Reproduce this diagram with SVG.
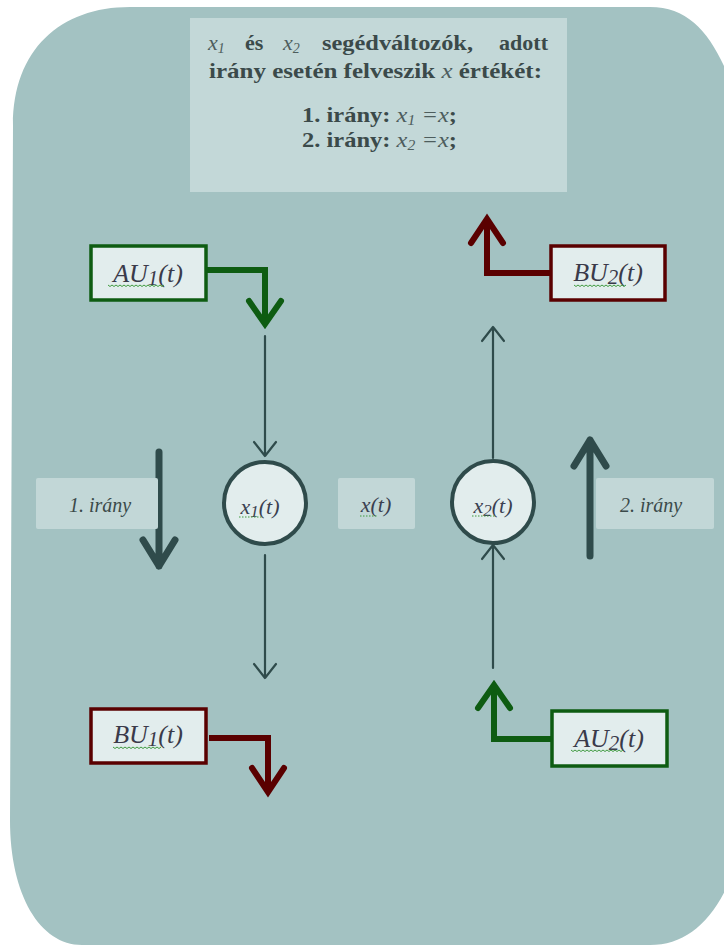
<svg xmlns="http://www.w3.org/2000/svg" width="724" height="945" viewBox="0 0 724 945">
<defs>
<style>
.bg{fill:#a3c2c2}
.panel{fill:#c3d8d8}
.lbl{fill:#c2d7d7}
.node{fill:#e2eded;stroke-width:3.5}
.grn{stroke:#0e5c12}
.mar{stroke:#5a0000}
.circ{fill:#e2eded;stroke:#2f4b4b;stroke-width:4}
.hd{font-family:"Liberation Serif",serif;font-weight:bold;font-size:22px;fill:#3b4a4a}
.mx{font-family:"Liberation Serif",serif;font-style:italic;font-weight:normal;fill:#4d5d5d}
.nt{font-family:"Liberation Serif",serif;font-style:italic;font-size:26px;fill:#3a3a4a;text-anchor:middle}
.ct{font-family:"Liberation Serif",serif;font-style:italic;font-size:22px;fill:#3a4050;text-anchor:middle}
.lt{font-family:"Liberation Serif",serif;font-style:italic;font-size:20px;fill:#3b4a4a;text-anchor:middle}
.thin{fill:none;stroke:#2f4b4b;stroke-width:2.2;stroke-linecap:round;stroke-linejoin:round}
.thick{fill:none;stroke:#2f4b4b;stroke-width:7;stroke-linecap:round;stroke-linejoin:round}
.bent{fill:none;stroke-width:6;stroke-linejoin:miter}
.head{fill:none;stroke-width:6;stroke-linecap:round;stroke-linejoin:miter}
.sq{fill:none;stroke:#3f9a3f;stroke-width:1}
</style>
</defs>
<path class="bg" d="M13,125 C13,50 60,7 130,7 L650,7 C690,7 712,35 730,80 L730,880 C712,922 685,945 650,945 L82,945 C40,945 10,895 10,820 Z"/>

<g id="info">
<rect class="panel" x="190" y="18" width="377" height="174"/>
<text class="mx" x="208" y="50" font-size="22">x<tspan font-size="14" dy="3">1</tspan></text>
<text class="hd" x="245" y="50">és</text>
<text class="mx" x="283" y="50" font-size="22">x<tspan font-size="14" dy="3">2</tspan></text>
<text class="hd" x="322" y="50" textLength="151" lengthAdjust="spacingAndGlyphs">segédváltozók,</text>
<text class="hd" x="548" y="50" text-anchor="end">adott</text>
<text class="hd" x="209" y="78" textLength="333" lengthAdjust="spacingAndGlyphs">irány esetén felveszik <tspan class="mx">x</tspan> értékét:</text>
<text class="hd" x="302" y="122" textLength="155" lengthAdjust="spacingAndGlyphs">1. irány: <tspan class="mx">x<tspan font-size="14" dy="3">1</tspan><tspan dy="-3"> =x</tspan></tspan>;</text>
<text class="hd" x="302" y="147" textLength="155" lengthAdjust="spacingAndGlyphs">2. irány: <tspan class="mx">x<tspan font-size="14" dy="3">2</tspan><tspan dy="-3"> =x</tspan></tspan>;</text>
</g>

<g id="connectors">
<path class="bent grn" d="M206,270 H265 V322"/>
<path class="head grn" d="M249,301 L265,324 L281,301"/>
<path class="thin" d="M265,336 V456 M254,442 L265,456 L276,442"/>
<path class="thin" d="M265,555 V678 M254,664 L265,678 L276,664"/>
<path class="bent mar" d="M209,738 H268 V790"/>
<path class="head mar" d="M252,768 L268,792 L284,768"/>
<path class="thick" d="M159,452 V566 M143,540 L159,566 L175,540"/>
<path class="bent grn" d="M552,739 H494 V686"/>
<path class="head grn" d="M478,708 L494,685 L510,708"/>
<path class="thin" d="M493,668 V545 M482,559 L493,545 L504,559"/>
<path class="thin" d="M493,458 V327 M482,341 L493,327 L504,341"/>
<path class="bent mar" d="M551,273 H487 V220"/>
<path class="head mar" d="M471,243 L487,219 L503,243"/>
<path class="thick" d="M590,556 V440 M574,466 L590,440 L606,466"/>
</g>

<g id="au1">
<rect class="node grn" x="91" y="246" width="115" height="54"/>
<text class="nt" x="148" y="282">AU<tspan font-size="21" dy="3">1</tspan><tspan dy="-3">(t)</tspan></text>
<path class="sq" d="M108,285 l2,1.5 l2,-1.5 l2,1.5 l2,-1.5 l2,1.5 l2,-1.5 l2,1.5 l2,-1.5 l2,1.5 l2,-1.5 l2,1.5 l2,-1.5 l2,1.5 l2,-1.5 l2,1.5 l2,-1.5 l2,1.5 l2,-1.5 l2,1.5 l2,-1.5 l2,1.5 l2,-1.5 l2,1.5 l2,-1.5 l2,1.5 l2,-1.5 l2,1.5 l2,-1.5"/>
</g>

<g id="bu2">
<rect class="node mar" x="551" y="246" width="114" height="54"/>
<text class="nt" x="608" y="281">BU<tspan font-size="21" dy="3">2</tspan><tspan dy="-3">(t)</tspan></text>
<path class="sq" d="M574,285 l2,1.5 l2,-1.5 l2,1.5 l2,-1.5 l2,1.5 l2,-1.5 l2,1.5 l2,-1.5 l2,1.5 l2,-1.5 l2,1.5 l2,-1.5 l2,1.5 l2,-1.5 l2,1.5 l2,-1.5 l2,1.5 l2,-1.5 l2,1.5 l2,-1.5 l2,1.5 l2,-1.5 l2,1.5 l2,-1.5 l2,1.5 l2,-1.5"/>
</g>

<g id="irany1">
<rect class="lbl" x="36" y="478" width="122" height="51" rx="2"/>
<text class="lt" x="100" y="512">1. irány</text>
</g>

<g id="x1">
<circle class="circ" cx="265" cy="503" r="41"/>
<text class="ct" x="260" y="514">x<tspan font-size="17" dy="3">1</tspan><tspan dy="-3">(t)</tspan></text>
<path class="sq" d="M239,517 H263" stroke-dasharray="1.5,1.5"/>
</g>

<g id="xt">
<rect class="lbl" x="338" y="478" width="77" height="51" rx="2"/>
<text class="ct" x="376" y="512">x(t)</text>
<path class="sq" d="M360,516 H377" stroke-dasharray="1.5,1.5"/>
</g>

<g id="x2">
<circle class="circ" cx="493" cy="502" r="41"/>
<text class="ct" x="493" y="513">x<tspan font-size="17" dy="3">2</tspan><tspan dy="-3">(t)</tspan></text>
<path class="sq" d="M472,516 H496" stroke-dasharray="1.5,1.5"/>
</g>

<g id="irany2">
<rect class="lbl" x="596" y="478" width="118" height="51" rx="2"/>
<text class="lt" x="651" y="512">2. irány</text>
</g>

<g id="bu1">
<rect class="node mar" x="91" y="709" width="115" height="54"/>
<text class="nt" x="148" y="743">BU<tspan font-size="21" dy="3">1</tspan><tspan dy="-3">(t)</tspan></text>
<path class="sq" d="M113,747 l2,1.5 l2,-1.5 l2,1.5 l2,-1.5 l2,1.5 l2,-1.5 l2,1.5 l2,-1.5 l2,1.5 l2,-1.5 l2,1.5 l2,-1.5 l2,1.5 l2,-1.5 l2,1.5 l2,-1.5 l2,1.5 l2,-1.5 l2,1.5 l2,-1.5 l2,1.5 l2,-1.5 l2,1.5 l2,-1.5"/>
</g>

<g id="au2">
<rect class="node grn" x="552" y="711" width="115" height="55"/>
<text class="nt" x="609" y="747">AU<tspan font-size="21" dy="3">2</tspan><tspan dy="-3">(t)</tspan></text>
<path class="sq" d="M571,750 l2,1.5 l2,-1.5 l2,1.5 l2,-1.5 l2,1.5 l2,-1.5 l2,1.5 l2,-1.5 l2,1.5 l2,-1.5 l2,1.5 l2,-1.5 l2,1.5 l2,-1.5 l2,1.5 l2,-1.5 l2,1.5 l2,-1.5 l2,1.5 l2,-1.5 l2,1.5 l2,-1.5 l2,1.5 l2,-1.5 l2,1.5 l2,-1.5"/>
</g>
</svg>
